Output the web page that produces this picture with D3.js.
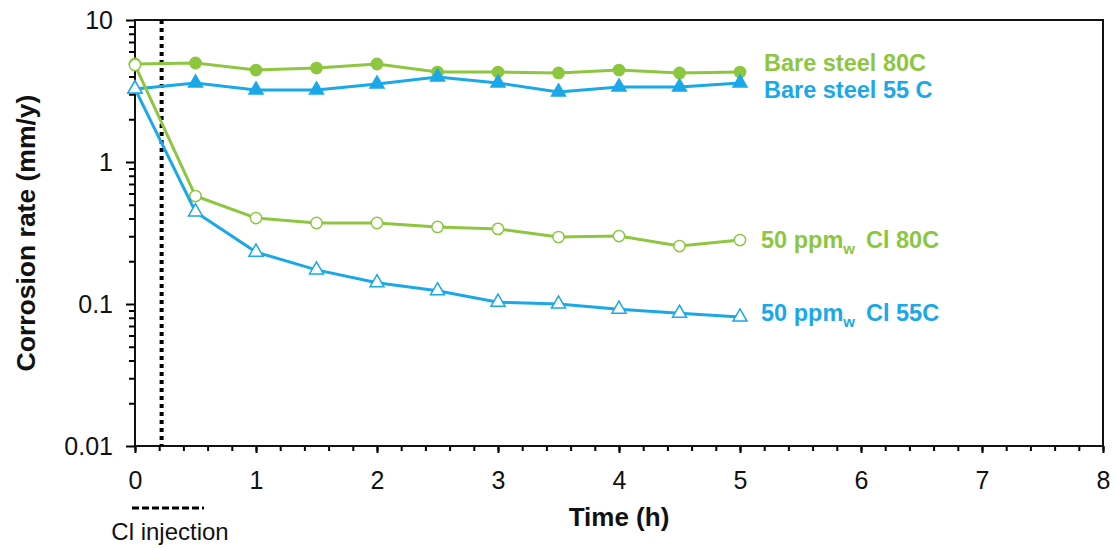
<!DOCTYPE html>
<html>
<head>
<meta charset="utf-8">
<script src="https://cdn.jsdelivr.net/npm/d3@7"></script>
<style>
  body { margin: 0; background: #fff; }
  text { font-family: "Liberation Sans", Arial, sans-serif; }
</style>
</head>
<body>
<div id="plot_area"></div>
<script>
//set svg size
const w = 1115;
const h = 548;

// data
const times = [0, 0.5, 1, 1.5, 2, 2.5, 3, 3.5, 4, 4.5, 5];
const bare80 = [4.90, 4.98, 4.44, 4.59, 4.90, 4.30, 4.30, 4.24, 4.44, 4.24, 4.30];
const bare55 = [3.27, 3.60, 3.21, 3.21, 3.54, 3.97, 3.60, 3.11, 3.37, 3.37, 3.60];
const cl80 = [4.82, 0.576, 0.403, 0.372, 0.372, 0.349, 0.338, 0.296, 0.301, 0.256, 0.282];
const cl55 = [3.27, 0.445, 0.232, 0.174, 0.141, 0.124, 0.103, 0.100, 0.092, 0.086, 0.081];
const injectionTime = 0.22;
const xTicks = [0, 1, 2, 3, 4, 5, 6, 7, 8];
const yTicks = [0.01, 0.1, 1, 10];

const green = '#8dc63f';
const blue = '#1ba8e8';

const xScale = d3.scaleLinear()
                 .domain([0, 8])
                 .range([135, 1103]);

const yScale = d3.scaleLog()
                 .domain([0.01, 10])
                 .range([446, 20]);

const svg = d3.select('#plot_area')
              .append('svg')
              .attr('width', w)
              .attr('height', h);

// minor ticks
const xMinor = d3.range(0, 8.001, 0.2);
const yMinor = [];
[0.01, 0.1, 1].forEach(function (d){
  for (let k = 2; k <= 9; k++) yMinor.push(d * k);
});

svg.append('g')
   .attr('transform', 'translate(0,' + yScale(0.01) + ')')
   .call(d3.axisBottom(xScale).tickValues(xMinor).tickSize(5).tickSizeOuter(0).tickFormat(''))
   .call(g => g.select('.domain').remove())
   .selectAll('line').attr('stroke-width', 2);

svg.append('g')
   .attr('transform', 'translate(' + xScale(0) + ',0)')
   .call(d3.axisLeft(yScale).tickValues(yMinor).tickSize(6).tickSizeOuter(0).tickFormat(''))
   .call(g => g.select('.domain').remove())
   .selectAll('line').attr('stroke-width', 2);

// major axes
svg.append('g')
   .attr('transform', 'translate(0,' + yScale(0.01) + ')')
   .call(d3.axisBottom(xScale).tickValues(xTicks).tickSize(7).tickPadding(18).tickSizeOuter(0))
   .call(g => g.select('.domain').remove())
   .call(g => g.selectAll('line').attr('stroke-width', 2))
   .selectAll('text')
   .style('font-size', '25px')
   .attr('fill', '#111');

svg.append('g')
   .attr('transform', 'translate(' + xScale(0) + ',0)')
   .call(d3.axisLeft(yScale).tickValues(yTicks).tickSize(9).tickPadding(13).tickSizeOuter(0)
           .tickFormat(d3.format('~g')))
   .call(g => g.select('.domain').remove())
   .call(g => g.selectAll('line').attr('stroke-width', 2))
   .selectAll('text')
   .style('font-size', '25px')
   .attr('fill', '#111');

// plot frame
svg.append('rect')
   .attr('x', xScale(0))
   .attr('y', yScale(10))
   .attr('width', xScale(8) - xScale(0))
   .attr('height', yScale(0.01) - yScale(10))
   .attr('fill', 'none')
   .attr('stroke', '#111')
   .attr('stroke-width', 2);

// injection line
svg.append('line')
   .attr('x1', xScale(injectionTime))
   .attr('x2', xScale(injectionTime))
   .attr('y1', yScale(10))
   .attr('y2', yScale(0.01))
   .attr('stroke', '#000')
   .attr('stroke-width', 4)
   .attr('stroke-dasharray', '4,4');

const line = d3.line()
               .x((d) => xScale(d[0]))
               .y((d) => yScale(d[1]));

const series = [
  {vals: bare80, color: green, shape: 'circle', filled: true},
  {vals: bare55, color: blue, shape: 'triangle', filled: true},
  {vals: cl80, color: green, shape: 'circle', filled: false},
  {vals: cl55, color: blue, shape: 'triangle', filled: false}
];

series.forEach(function (s){
  const pts = times.map((t, i) => [t, s.vals[i]]);

  svg.append('path')
     .datum(pts)
     .attr('fill', 'none')
     .attr('stroke', s.color)
     .attr('stroke-width', 3)
     .attr('d', line);

  const sym = d3.symbol()
                .type(s.shape === 'circle' ? d3.symbolCircle : d3.symbolTriangle)
                .size(s.shape === 'circle' ? 100 : 85);

  svg.selectAll(null)
     .data(pts)
     .enter()
     .append('path')
     .attr('d', sym)
     .attr('transform', (d) => 'translate(' + xScale(d[0]) + ',' + yScale(d[1]) + ')')
     .attr('fill', s.filled ? s.color : '#fff')
     .attr('stroke', s.color)
     .attr('stroke-width', 1.5);
});

// series labels
const labelX = xScale(5) + 24;

svg.append('text')
   .attr('x', labelX)
   .attr('y', 71)
   .attr('fill', green)
   .style('font-size', '23.5px')
   .style('font-weight', 'bold')
   .text('Bare steel 80C');

svg.append('text')
   .attr('x', labelX)
   .attr('y', 98)
   .attr('fill', blue)
   .style('font-size', '23.5px')
   .style('font-weight', 'bold')
   .text('Bare steel 55 C');

function clLabel(y, color, temp){
  const t = svg.append('text')
               .attr('x', labelX - 3)
               .attr('y', y)
               .attr('fill', color)
               .style('font-size', '23.5px')
               .style('font-weight', 'bold');
  t.append('tspan').text('50 ppm');
  t.append('tspan')
   .attr('dy', 6)
   .style('font-size', '15px')
   .text('w');
  t.append('tspan')
   .attr('x', 866)
   .attr('dy', -6)
   .text('Cl ' + temp);
}

clLabel(248, green, '80C');
clLabel(321, blue, '55C');

// axis titles
svg.append('text')
   .attr('x', xScale(4))
   .attr('y', 526)
   .attr('text-anchor', 'middle')
   .style('font-size', '26px')
   .style('font-weight', 'bold')
   .attr('fill', '#111')
   .text('Time (h)');

svg.append('text')
   .attr('text-anchor', 'middle')
   .attr('transform', 'translate(35,' + (yScale(10) + yScale(0.01)) / 2 + ')rotate(-90)')
   .style('font-size', '26.5px')
   .style('font-weight', 'bold')
   .attr('fill', '#111')
   .text('Corrosion rate (mm/y)');

// injection legend
svg.append('line')
   .attr('x1', 132)
   .attr('x2', 204)
   .attr('y1', 508)
   .attr('y2', 508)
   .attr('stroke', '#000')
   .attr('stroke-width', 3)
   .attr('stroke-dasharray', '7,3');

svg.append('text')
   .attr('x', 170)
   .attr('y', 540)
   .attr('text-anchor', 'middle')
   .style('font-size', '24px')
   .attr('fill', '#111')
   .text('Cl injection');
</script>
</body>
</html>
